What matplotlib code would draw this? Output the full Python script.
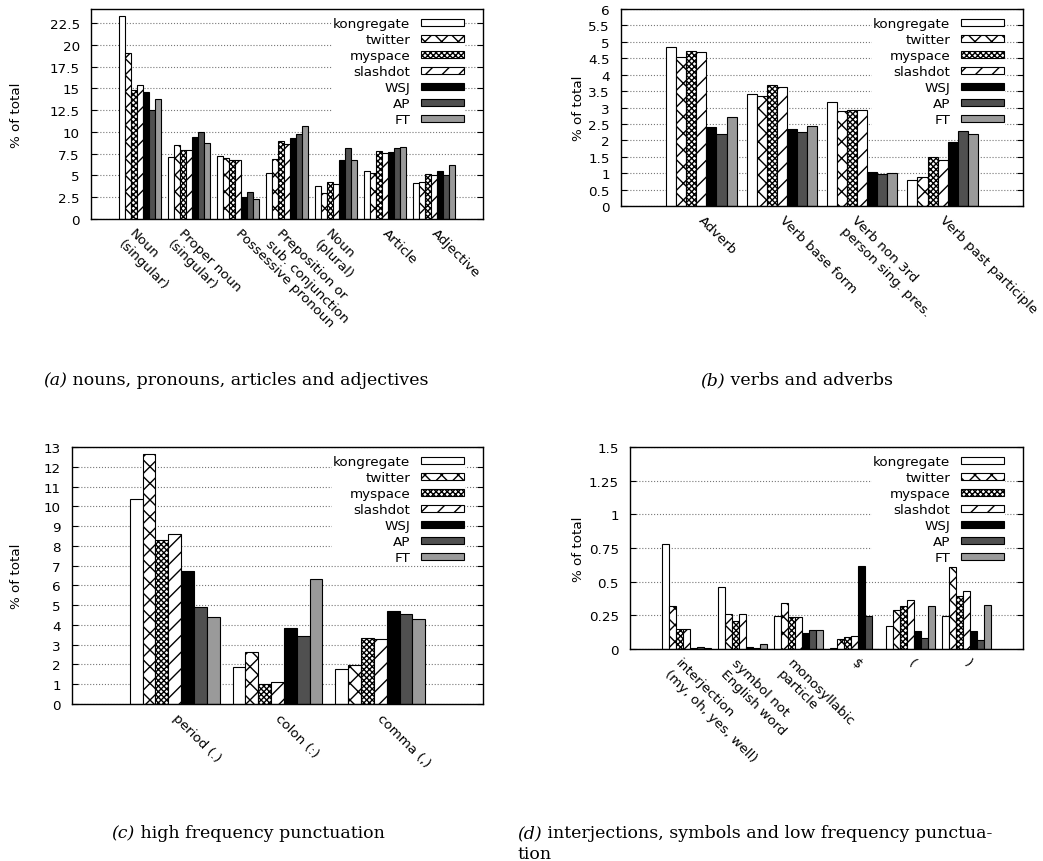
import matplotlib.pyplot as plt
import matplotlib.transforms as mtransforms
import numpy as np

plt.rcParams['font.family'] = ['DejaVu Sans']
plt.rcParams['hatch.linewidth'] = 1.0

series = ['kongregate', 'twitter', 'myspace', 'slashdot', 'WSJ', 'AP', 'FT']

# (a) nouns, pronouns, articles and adjectives
cats_a = ['Noun\n(singular)', 'Proper noun\n(singular)', 'Possessive pronoun',
          'Preposition or\nsub. conjunction', 'Noun\n(plural)', 'Article', 'Adjective']
kongregate_a = [23.3, 7.1, 7.2, 5.25, 3.75, 5.5, 4.1]
twitter_a = [19.0, 8.5, 7.0, 6.9, 2.95, 5.3, 4.25]
myspace_a = [14.85, 7.9, 6.8, 8.9, 4.2, 7.8, 5.15]
slashdot_a = [15.4, 7.95, 6.8, 8.55, 4.0, 7.55, 5.0]
wsj_a = [14.6, 9.45, 2.55, 9.3, 6.75, 7.7, 5.5]
ap_a = [12.5, 10.0, 3.1, 9.75, 8.1, 8.2, 5.0]
ft_a = [13.8, 8.7, 2.25, 10.7, 6.75, 8.25, 6.2]

# (b) verbs and adverbs
cats_b = ['Adverb', 'Verb base form', 'Verb non 3rd\nperson sing. pres.', 'Verb past participle']
kongregate_b = [4.84, 3.42, 3.16, 0.79]
twitter_b = [4.54, 3.34, 2.89, 0.89]
myspace_b = [4.72, 3.70, 2.91, 1.48]
slashdot_b = [4.69, 3.62, 2.91, 1.39]
wsj_b = [2.40, 2.36, 1.04, 1.95]
ap_b = [2.19, 2.26, 0.98, 2.28]
ft_b = [2.71, 2.45, 1.00, 2.19]

# (c) high frequency punctuation
cats_c = ['period (.)', 'colon (:)', 'comma (,)']
kongregate_c = [10.39, 1.86, 1.77]
twitter_c = [12.67, 2.62, 1.98]
myspace_c = [8.29, 1.0, 3.34]
slashdot_c = [8.61, 1.11, 3.31]
wsj_c = [6.74, 3.85, 4.70]
ap_c = [4.90, 3.43, 4.56]
ft_c = [4.41, 6.30, 4.32]

# (d) interjections, symbols and low frequency punctuation
cats_d = ['interjection\n(my, oh, yes, well)', 'symbol not\nEnglish word',
          'monosyllabic\nparticle', '$', '(', ')']
kongregate_d = [0.78, 0.46, 0.248, 0.007, 0.169, 0.248]
twitter_d = [0.317, 0.258, 0.342, 0.072, 0.288, 0.612]
myspace_d = [0.146, 0.208, 0.236, 0.089, 0.317, 0.392]
slashdot_d = [0.146, 0.258, 0.236, 0.099, 0.362, 0.429]
wsj_d = [0.007, 0.017, 0.119, 0.62, 0.131, 0.131]
ap_d = [0.017, 0.007, 0.139, 0.248, 0.079, 0.069]
ft_d = [0.01, 0.037, 0.139, 0.0, 0.317, 0.33]

# bar looks, same order as series (gnuplot-ish patterns)
fills = ['white', 'white', 'white', 'white', 'black', '#505050', '#9a9a9a']
hatches = ['', 'xx', 'xxxxxx', '//', '', '', '']

FS = 9.7  # gnuplot text size
W, H = 1043, 862
fig = plt.figure(figsize=(W / 100, H / 100), dpi=100)


def px_rect(left, top, right, bottom):
    return [left / W, 1 - bottom / H, (right - left) / W, (bottom - top) / H]


def draw_panel(left, top, right, bottom, cats, values, ymax, yticks, ylab_off):
    ax = fig.add_axes(px_rect(left, top, right, bottom))
    x = np.arange(len(cats))
    w = 1 / 8  # 7 bars + 1 gap per cluster
    for j, name in enumerate(series):
        ax.bar(x + (j - 3) * w, values[j], w, color=fills[j], hatch=hatches[j],
               edgecolor='black', linewidth=0.8, label=name)
    ax.set_xlim(-1, len(cats))
    ax.set_ylim(0, ymax)
    ax.set_yticks(yticks)
    ax.set_yticklabels(['%g' % t for t in yticks])
    ax.yaxis.grid(True, linestyle=':', color='#777777', linewidth=0.8)
    ax.set_axisbelow(True)
    ax.tick_params(axis='y', direction='in', right=True, length=4, labelsize=FS, pad=8)
    ax.tick_params(axis='x', length=0, pad=5)
    ax.set_xticks(x)
    ax.set_xticklabels(cats, rotation=-45, ha='left', va='top',
                       rotation_mode='anchor', fontsize=FS)
    # gnuplot pushes multi-line labels a bit to the left
    for lab, c in zip(ax.get_xticklabels(), cats):
        dx = 4 - 8 * c.count('\n')
        shift = mtransforms.ScaledTranslation(dx / 100, 0, fig.dpi_scale_trans)
        lab.set_transform(lab.get_transform() + shift)
    for s in ax.spines.values():
        s.set_linewidth(1.0)
    ax.set_ylabel('% of total', fontsize=FS, va='center')
    ax.yaxis.set_label_coords(-ylab_off / (right - left), 0.5)
    wpx = right - left
    hpx = bottom - top
    ax.legend(loc='upper right', bbox_to_anchor=(1 - 18 / wpx, 1 - 7 / hpx),
              borderaxespad=0, borderpad=0.1, markerfirst=False,
              handlelength=3.2, handleheight=0.45, handletextpad=0.75,
              labelspacing=0.22, fontsize=FS, frameon=True, fancybox=False,
              edgecolor='none', facecolor='white', framealpha=1)
    return ax


draw_panel(91, 10, 483, 220, cats_a,
           [kongregate_a, twitter_a, myspace_a, slashdot_a, wsj_a, ap_a, ft_a],
           24.1, np.arange(0, 22.6, 2.5), 74)
draw_panel(621, 10, 1023, 207, cats_b,
           [kongregate_b, twitter_b, myspace_b, slashdot_b, wsj_b, ap_b, ft_b],
           6, np.arange(0, 6.01, 0.5), 43)
draw_panel(72, 448, 483, 705, cats_c,
           [kongregate_c, twitter_c, myspace_c, slashdot_c, wsj_c, ap_c, ft_c],
           13, np.arange(0, 13.1, 1), 55)
draw_panel(630, 448, 1023, 650, cats_d,
           [kongregate_d, twitter_d, myspace_d, slashdot_d, wsj_d, ap_d, ft_d],
           1.5, np.arange(0, 1.51, 0.25), 52)

# sub-captions: italic tag + upright text, serif like the paper body
renderer = fig.canvas.get_renderer()


def caption(x, y, tag, rest, center=True, size=12.5):
    t1 = fig.text(0, 1 - y / H, tag, family='DejaVu Serif', style='italic',
                  fontsize=size, va='center')
    t2 = fig.text(0, 1 - y / H, rest, family='DejaVu Serif', fontsize=size, va='center')
    w1 = t1.get_window_extent(renderer).width
    w2 = t2.get_window_extent(renderer).width
    x0 = x - (w1 + w2) / 2 if center else x
    t1.set_x(x0 / W)
    t2.set_x((x0 + w1) / W)


caption(236, 381, '(a)', ' nouns, pronouns, articles and adjectives')
caption(797, 381, '(b)', ' verbs and adverbs')
caption(248, 834, '(c)', ' high frequency punctuation')
caption(517, 834, '(d)', ' interjections, symbols and low frequency punctua-', center=False)
fig.text(517 / W, 1 - 855 / H, 'tion', family='DejaVu Serif', fontsize=12.5, va='center')

fig.savefig('out.png', dpi=100)
